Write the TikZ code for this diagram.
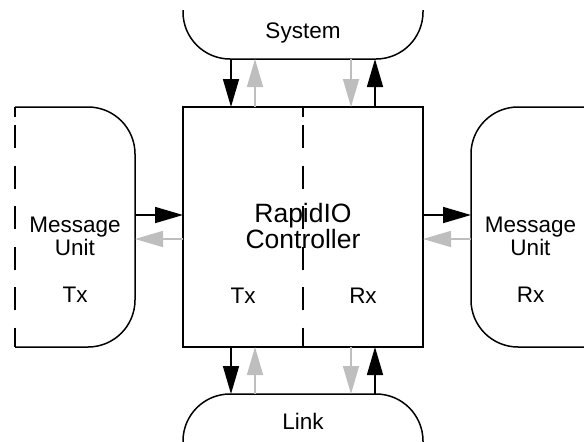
\documentclass[tikz,border=0pt]{standalone}
\usepackage{fontspec}
\setmainfont{Liberation Sans}
\usetikzlibrary{calc,arrows.meta}
\definecolor{flowGray}{RGB}{190,190,190}
\tikzset{
  blockline/.style={line width=1.5pt,line join=miter},
  splitline/.style={line width=1.5pt,dash pattern=on 10pt off 8pt on 23pt off 17.5pt on 23pt off 17.5pt on 23pt off 17.5pt on 23pt off 17.5pt on 23pt off 17.5pt on 30pt off 10pt},
  area/.style={draw=none,inner sep=0pt,outer sep=0pt},
  fwd/.style={line width=1.6pt,draw=black,-{Triangle[length=28pt,width=16pt]}},
  rev/.style={line width=1.6pt,draw=flowGray,-{Triangle[length=28pt,width=16pt]}},
  lbl/.style={inner sep=0pt,font=\fontsize{22.5}{23.5}\selectfont,align=center},
}

\begin{document}
\begin{tikzpicture}[x=1pt,y=-1pt]
\useasboundingbox (0,0) rectangle (584,442);
\clip (0,0) rectangle (584,442);
\node[area,minimum width=240pt,minimum height=240pt] (ctrl) at (303,227) {};
\node[area,minimum width=240pt,minimum height=49pt] (sys) at (303,34.5) {};
\node[area,minimum width=240pt,minimum height=50pt] (link) at (303,419) {};
\node[area,minimum width=120pt,minimum height=240pt] (mutx) at (75,227) {};
\node[area,minimum width=119pt,minimum height=240pt] (murx) at (530.5,227) {};

\draw[blockline] (ctrl.north west) rectangle (ctrl.south east);
\draw[splitline] (ctrl.north) -- (ctrl.south);
\draw[blockline] (sys.north west) -- ++(0,2) arc[start angle=180,end angle=90,radius=47] -- ($(sys.south east)+(-47,0)$) arc[start angle=90,end angle=0,radius=47] -- (sys.north east);
\draw[blockline] (link.south west) -- ++(0,-3) arc[start angle=180,end angle=270,radius=47] -- ($(link.north east)+(-47,0)$) arc[start angle=270,end angle=360,radius=47] -- (link.south east);
\draw[blockline] (mutx.north west) -- ($(mutx.north east)+(-47,0)$) arc[start angle=270,end angle=360,radius=47] -- ($(mutx.south east)+(0,-47)$) arc[start angle=0,end angle=90,radius=47] -- (mutx.south west);
\draw[splitline] (mutx.north west) -- (mutx.south west);
\draw[blockline] (murx.north east) -- ($(murx.north west)+(47,0)$) arc[start angle=270,end angle=180,radius=47] -- ($(murx.south west)+(0,-47)$) arc[start angle=180,end angle=90,radius=47] -- (murx.south east);

\foreach \dx/\sty in {-72/fwd,48/rev}{
  \draw[\sty] ($(sys.south)+(\dx,0)$) -- ($(ctrl.north)+(\dx,0)$);
  \draw[\sty] ($(ctrl.south)+(\dx,0)$) -- ($(link.north)+(\dx,0)$);}
\foreach \dx/\sty in {-48/rev,72/fwd}{
  \draw[\sty] ($(ctrl.north)+(\dx,0)$) -- ($(sys.south)+(\dx,0)$);
  \draw[\sty] ($(link.north)+(\dx,0)$) -- ($(ctrl.south)+(\dx,0)$);}
\draw[fwd] ($(mutx.east)+(0,-12)$) -- ($(ctrl.west)+(0,-12)$);
\draw[rev] ($(ctrl.west)+(0,12)$) -- ($(mutx.east)+(0,12)$);
\draw[fwd] ($(ctrl.east)+(0,-12)$) -- ($(murx.west)+(0,-12)$);
\draw[rev] ($(murx.west)+(0,12)$) -- ($(ctrl.east)+(0,12)$);

\node[lbl,anchor=base] (systxt) at (303,38) {System};
\node[lbl,anchor=base] (linktxt) at (303,429) {Link};
\node[lbl,anchor=north] (mutxtxt) at (75,216.4) {Message\\Unit\\[23.5pt]Tx};
\node[lbl,anchor=north] (murxtxt) at (530.5,216.4) {Message\\Unit\\[23.5pt]Rx};
\node[lbl,anchor=north,font=\fontsize{26.5}{24.5}\selectfont] (ctrltxt) at (303,203.5) {RapidIO\\Controller};
\node[lbl,anchor=base] (txtxt) at (243,303) {Tx};
\node[lbl,anchor=base] (rxtxt) at (363,303) {Rx};
\end{tikzpicture}
\end{document}
